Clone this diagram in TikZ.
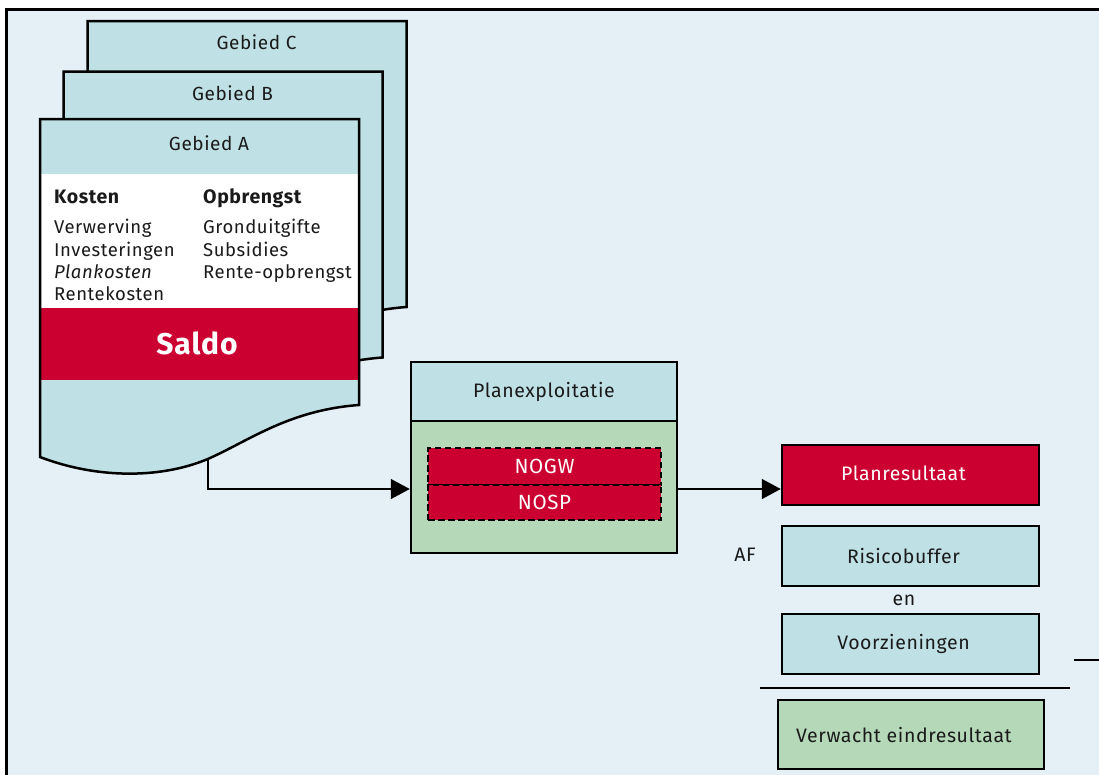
\documentclass[tikz,border=0pt]{standalone}
\usepackage{fontspec}
\setmainfont{Fira Sans}[LetterSpace=3]
\usetikzlibrary{arrows.meta}
\definecolor{bgblue}{HTML}{E4EFF6}
\definecolor{pageblue}{HTML}{BFE1E5}
\definecolor{planred}{HTML}{CC0030}
\definecolor{plangreen}{HTML}{B5D9B8}
\definecolor{inkgray}{HTML}{1A1A1A}
\newcommand\docshape[3]{\path[shift={(#1,#2)},#3] (40,119) -- (359,119) -- (359,405) .. controls (290,410) and (250,440) .. (210,458) .. controls (165,478) and (100,480) .. (40,457) -- cycle;}
\newcommand\lft[1]{#1\kern14pt}
\tikzset{
  pageline/.style={draw=black, line width=2.5pt, line join=miter},
  txt/.style={font=\fontsize{18.5}{20}\selectfont, text=inkgray, inner sep=0pt, text height=13pt, text depth=4pt},
  boxnode/.style={draw=black, line width=2.5pt, inner sep=0pt, font=\fontsize{19.5}{20}\selectfont, text=inkgray},
  conn/.style={draw=black, line width=1.5pt},
  tip/.style={-{Triangle[length=19pt,width=20pt]}},
  dashbox/.style={boxnode, fill=planred, text=white, dash pattern=on 6.5pt off 3.5pt, minimum width=233pt, font=\fontsize{20.5}{20}\selectfont},
}
\begin{document}
\begin{tikzpicture}[x=1pt,y=-1pt]
\useasboundingbox (0,0) rectangle (1099,774);
\fill[white] (0,0) rectangle (1099,774);
\draw[line width=3pt, fill=bgblue] (6,9) rectangle (1120,800);
% stacked pages
\docshape{47.5}{-98}{pageline,fill=pageblue}
\docshape{23.5}{-47.5}{pageline,fill=pageblue}
\docshape{0}{0}{fill=pageblue}
\fill[white] (40,174) rectangle (359,308);
\fill[planred] (40,308) rectangle (359,380);
\docshape{0}{0}{pageline}
\coordinate (aout) at (208,460);
% page labels
\node[txt, font=\fontsize{19}{20}\selectfont] (gc) at (256.5,45) {Gebied C};
\node[txt, font=\fontsize{19}{20}\selectfont] (gb) at (232.5,96) {Gebied B};
\node[txt, font=\fontsize{19}{20}\selectfont] (ga) at (209,146) {Gebied A};
\node[txt, anchor=west, font=\fontsize{19.5}{20}\bfseries] (kosten) at (54,199) {Kosten};
\node[txt, anchor=west, font=\fontsize{19.5}{20}\bfseries] (opbr) at (203,199) {Opbrengst};
\node[txt, anchor=west] (k1) at (54,229) {Verwerving};
\node[txt, anchor=west] (k2) at (54,252) {Investeringen};
\node[txt, anchor=west] (k3) at (54,274) {\itshape Plankosten};
\node[txt, anchor=west] (k4) at (54,296) {Rentekosten};
\node[txt, anchor=west] (o1) at (203,229) {Gronduitgifte};
\node[txt, anchor=west] (o2) at (203,252) {Subsidies};
\node[txt, anchor=west] (o3) at (203,274) {Rente-opbrengst};
\node[txt, text=white, font=\fontsize{30}{30}\bfseries\selectfont, text height=21pt, text depth=0pt] (saldo) at (197,344) {Saldo};
% Planexploitatie
\node[boxnode, fill=pageblue, minimum width=266pt, minimum height=59pt] (planhead) at (544,391.5) {Planexploitatie};
\node[boxnode, fill=plangreen, minimum width=266pt, minimum height=132pt] (planbody) at (544,487) {};
\node[dashbox, minimum height=37pt] (nogw) at (544.5,466.5) {NOGW};
\node[dashbox, minimum height=35pt] (nosp) at (544.5,502.5) {NOSP};
\coordinate (planin) at (planbody.west |- 0,489);
\coordinate (planout) at (planbody.east |- 0,489);
% right column
\node[boxnode, fill=planred, text=white, minimum width=257pt, minimum height=60pt] (res) at (910.5,475) {\raisebox{3pt}{\lft{Planresultaat}}};
\node[txt, font=\fontsize{19.5}{20}\selectfont] (af) at (745,557) {AF};
\node[boxnode, fill=pageblue, minimum width=257pt, minimum height=60pt] (risico) at (910.5,556) {\lft{Risicobuffer}};
\node[txt, font=\fontsize{19.5}{20}\selectfont] (en) at (904,601) {en};
\node[boxnode, fill=pageblue, minimum width=257pt, minimum height=60pt] (voorz) at (910.5,644) {\raisebox{2pt}{\lft{Voorzieningen}}};
\coordinate (sumL) at (760,688);
\coordinate (sumR) at (1070,688);
\coordinate (sideL) at (1074,660);
\coordinate (sideR) at (1100,660);
\node[boxnode, fill=plangreen, minimum width=266pt, minimum height=69pt] (eind) at (911,734.5) {\lft{Verwacht eindresultaat}};
% connectors
\draw[conn, tip] (aout) |- (planin);
\draw[conn, tip] (planout) -- (res.west |- planout);
\draw[conn] (sumL) -- (sumR);
\draw[conn] (sideL) -- (sideR);
\end{tikzpicture}
\end{document}
